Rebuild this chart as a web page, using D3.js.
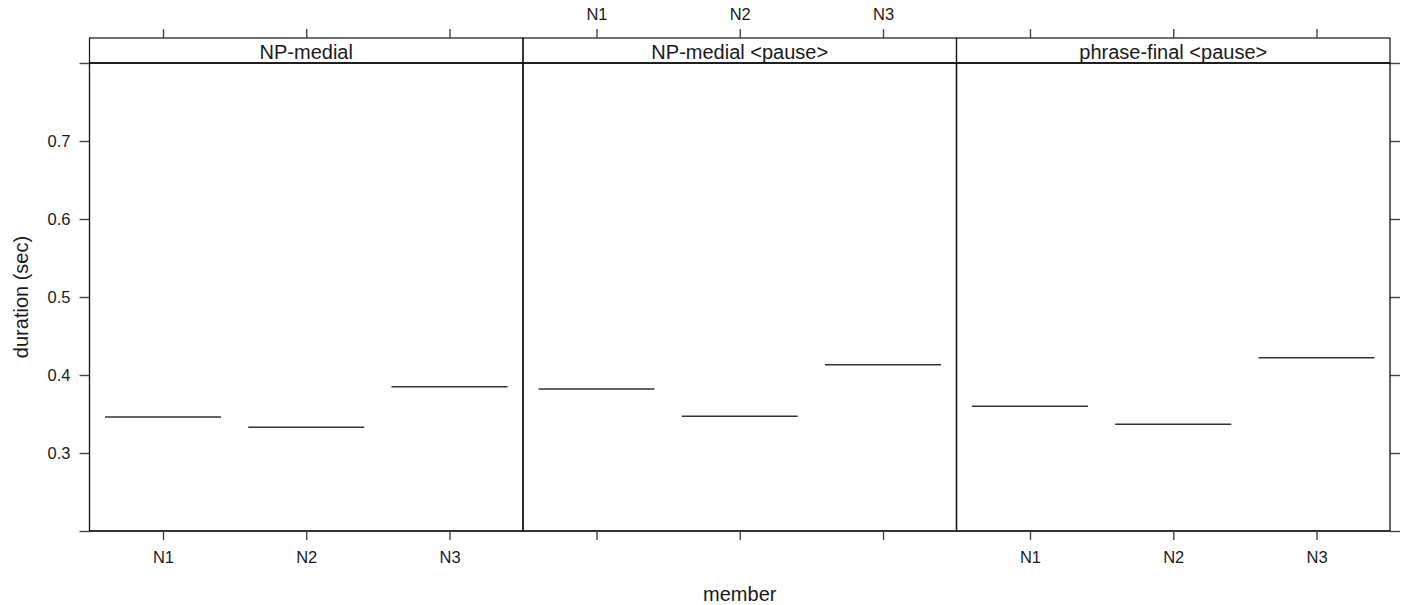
<!DOCTYPE html>
<html>
<head>
<meta charset="utf-8">
<script src="https://cdn.jsdelivr.net/npm/d3@7"></script>
<style>
  body { margin: 0; background: #fff; }
  text { font-family: "Liberation Sans", Arial, sans-serif; fill: #1a1a1a; }
</style>
</head>
<body>
<div id="chart"></div>
<script>
// data
const conditions = ["NP-medial", "NP-medial <pause>", "phrase-final <pause>"];
const members = ["N1", "N2", "N3"];
const npMedial = [0.346, 0.333, 0.385];
const npMedialPause = [0.382, 0.347, 0.413];
const phraseFinalPause = [0.360, 0.337, 0.422];
const yTicks = [0.2, 0.3, 0.4, 0.5, 0.6, 0.7, 0.8];
const yLabelled = [0.3, 0.4, 0.5, 0.6, 0.7];

const panelValues = [npMedial, npMedialPause, phraseFinalPause];

const width = 1404, height = 605;
const pLeft = 89.5, pRight = 1390, pTop = 63, pBottom = 531, stripTop = 38;
const panelW = (pRight - pLeft) / conditions.length;

const svg = d3.select("#chart").append("svg")
  .attr("width", width)
  .attr("height", height);

const y = d3.scaleLinear().domain([0.2, 0.8]).range([pBottom, pTop]);

const fmt = d3.format(".1f");

// y axes (left and right), ticks stretch out of the panel
const yAxisL = d3.axisLeft(y).tickValues(yTicks).tickSize(10).tickPadding(9)
  .tickFormat(d => yLabelled.some(v => Math.abs(v - d) < 1e-9) ? fmt(d) : "");
const gyl = svg.append("g").attr("transform", "translate(" + pLeft + ",0)").call(yAxisL);
const gyr = svg.append("g").attr("transform", "translate(" + pRight + ",0)")
  .call(d3.axisRight(y).tickValues(yTicks).tickSize(10).tickFormat(""));

[gyl, gyr].forEach(g => {
  g.select(".domain").remove();
  g.selectAll(".tick line").attr("stroke", "#444").attr("stroke-width", 1.4);
  g.selectAll(".tick text").style("font-size", "16.5px").attr("fill", "#1a1a1a");
});

// the 0.2 and 0.8 lines run through all panels
[0.2, 0.8].forEach(v => {
  svg.append("line")
    .attr("x1", pLeft).attr("x2", pRight)
    .attr("y1", y(v)).attr("y2", y(v))
    .attr("stroke", "#444").attr("stroke-width", 1.4);
});

conditions.forEach((cond, i) => {
  const x0 = pLeft + i * panelW, x1 = x0 + panelW;
  const x = d3.scalePoint().domain(members).range([x0, x1]).padding(0.513);
  const half = x.step() * 0.405;

  const g = svg.append("g");

  // strip
  g.append("rect")
    .attr("x", x0).attr("y", stripTop)
    .attr("width", panelW).attr("height", pTop - stripTop)
    .attr("fill", "none").attr("stroke", "#111").attr("stroke-width", 1.2);
  g.append("text")
    .attr("x", (x0 + x1) / 2).attr("y", 59)
    .attr("text-anchor", "middle")
    .style("font-size", "20px")
    .text(cond);

  // panel border
  g.append("rect")
    .attr("x", x0).attr("y", pTop)
    .attr("width", panelW).attr("height", pBottom - pTop)
    .attr("fill", "none").attr("stroke", "#111").attr("stroke-width", 1.3);

  // segments
  g.selectAll("line.seg")
    .data(members.map((m, j) => ({ m: m, v: panelValues[i][j] })))
    .join("line")
    .attr("class", "seg")
    .attr("x1", d => x(d.m) - half).attr("x2", d => x(d.m) + half)
    .attr("y1", d => y(d.v)).attr("y2", d => y(d.v))
    .attr("stroke", "#333").attr("stroke-width", 1.5);

  // bottom axis: labelled on panels 1 and 3
  const bx = d3.axisBottom(x).tickSize(9).tickPadding(11);
  if (i === 1) bx.tickFormat("");
  const gb = g.append("g").attr("transform", "translate(0," + pBottom + ")").call(bx);

  // top axis: labelled on panel 2
  const tx = d3.axisTop(x).tickSize(9).tickPadding(9);
  if (i !== 1) tx.tickFormat("");
  const gt = g.append("g").attr("transform", "translate(0," + stripTop + ")").call(tx);

  [gb, gt].forEach(a => {
    a.select(".domain").remove();
    a.selectAll(".tick line").attr("stroke", "#444").attr("stroke-width", 1.4);
    a.selectAll(".tick text").style("font-size", "16.5px").attr("fill", "#1a1a1a");
  });
});

// axis titles
svg.append("text")
  .attr("x", (pLeft + pRight) / 2).attr("y", 601)
  .attr("text-anchor", "middle")
  .style("font-size", "20px")
  .text("member");

svg.append("text")
  .attr("transform", "translate(28," + ((pTop + pBottom) / 2) + ") rotate(-90)")
  .attr("text-anchor", "middle")
  .style("font-size", "20px")
  .text("duration (sec)");
</script>
</body>
</html>
